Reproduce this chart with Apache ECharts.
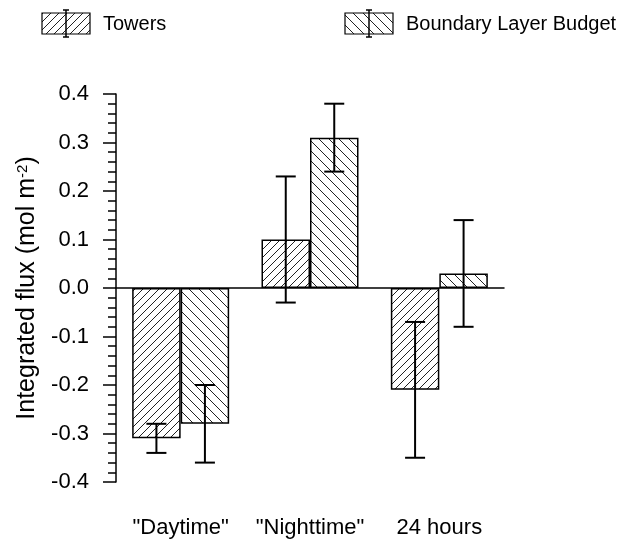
<!DOCTYPE html>
<html>
<head>
<meta charset="utf-8">
<script src="https://cdn.jsdelivr.net/npm/echarts@6/dist/echarts.min.js"></script>
<style>html,body{margin:0;padding:0;background:#fff}#c{width:630px;height:545px}</style>
</head>
<body>
<div id="c"></div>
<script>
// ---- data ----
const categories = ['"Daytime"', '"Nighttime"', '24 hours'];
const seriesNames = ['Towers', 'Boundary Layer Budget'];
const towers = [-0.31, 0.10, -0.21];
const towersErr = [0.03, 0.13, 0.14];
const blb = [-0.28, 0.31, 0.03];
const blbErr = [0.08, 0.07, 0.11];
const yTicks = { min: -0.4, max: 0.4, interval: 0.1 };

// ---- styles ----
const FONT = "'Liberation Sans', Arial, sans-serif";
const BAR_W = 48.5;
const CAP = 10;

function hatch(s, forward) {
  const c = document.createElement('canvas');
  c.width = s; c.height = s;
  const g = c.getContext('2d');
  g.fillStyle = '#fff'; g.fillRect(0, 0, s, s);
  g.strokeStyle = '#222'; g.lineWidth = 1;
  g.beginPath();
  if (forward) {
    g.moveTo(0, s); g.lineTo(s, 0);
    g.moveTo(-1, 1); g.lineTo(1, -1);
    g.moveTo(s - 1, s + 1); g.lineTo(s + 1, s - 1);
  } else {
    g.moveTo(0, 0); g.lineTo(s, s);
    g.moveTo(-1, s - 1); g.lineTo(1, s + 1);
    g.moveTo(s - 1, -1); g.lineTo(s + 1, 1);
  }
  g.stroke();
  return c;
}
const patTowers = { image: hatch(8, true), repeat: 'repeat' };
const patBlb = { image: hatch(10, false), repeat: 'repeat' };

function errRender(sign) {
  return function (params, api) {
    const cx = api.coord([api.value(0), 0])[0] + sign * BAR_W / 2;
    const lo = api.coord([api.value(0), api.value(1)])[1];
    const hi = api.coord([api.value(0), api.value(2)])[1];
    const st = { stroke: '#000', lineWidth: 2 };
    return {
      type: 'group',
      children: [
        { type: 'line', shape: { x1: cx, y1: lo, x2: cx, y2: hi }, style: st },
        { type: 'line', shape: { x1: cx - CAP, y1: lo, x2: cx + CAP, y2: lo }, style: st },
        { type: 'line', shape: { x1: cx - CAP, y1: hi, x2: cx + CAP, y2: hi }, style: st }
      ]
    };
  };
}

function legendItem(x, pat, label) {
  const bw = 48, bh = 21, y = 13;
  const cx = x + bw / 2;
  const st = { stroke: '#000', lineWidth: 1.5 };
  return [
    { type: 'rect', shape: { x: x, y: y, width: bw, height: bh }, style: { fill: pat, stroke: '#000', lineWidth: 1.2 } },
    { type: 'line', shape: { x1: cx, y1: y - 3, x2: cx, y2: y + bh + 3 }, style: st },
    { type: 'line', shape: { x1: cx - 3, y1: y - 3, x2: cx + 3, y2: y - 3 }, style: st },
    { type: 'line', shape: { x1: cx - 3, y1: y + bh + 3, x2: cx + 3, y2: y + bh + 3 }, style: st },
    { type: 'text', x: x + bw + 13, y: y + bh / 2 + 1, style: { text: label, fill: '#000', font: '20px ' + FONT, verticalAlign: 'middle', align: 'left' } }
  ];
}

const chart = echarts.init(document.getElementById('c'), null, { renderer: 'canvas' });
chart.setOption({
  animation: false,
  backgroundColor: '#fff',
  textStyle: { fontFamily: FONT },
  grid: { left: 116, top: 94, width: 388, height: 388, containLabel: false },
  graphic: [].concat(legendItem(42, patTowers, seriesNames[0]), legendItem(345, patBlb, seriesNames[1])),
  xAxis: [
    {
      type: 'category', data: categories, gridIndex: 0,
      axisLine: { show: true, onZero: true, lineStyle: { color: '#000', width: 1.5 } },
      axisTick: { show: false }, axisLabel: { show: false }, splitLine: { show: false }
    },
    {
      type: 'category', data: categories, gridIndex: 0, position: 'bottom',
      axisLine: { show: false, onZero: false },
      axisTick: { show: false }, splitLine: { show: false },
      axisLabel: { show: true, interval: 0, hideOverlap: false, color: '#000', fontSize: 22, fontFamily: FONT, margin: 35 }
    }
  ],
  yAxis: {
    type: 'value', min: yTicks.min, max: yTicks.max, interval: yTicks.interval,
    name: 'Integrated flux (mol m{sup|-2})',
    nameLocation: 'middle', nameGap: 76, nameRotate: 90,
    nameTextStyle: {
      color: '#000', fontSize: 25, fontFamily: FONT,
      rich: { sup: { fontSize: 15, verticalAlign: 'top', color: '#000', fontFamily: FONT, padding: [0, 0, 10, 0] } }
    },
    axisLine: { show: true, lineStyle: { color: '#000', width: 1.5 } },
    axisTick: { show: true, inside: false, length: 13, lineStyle: { color: '#000', width: 1.5 } },
    minorTick: { show: true, splitNumber: 5, length: 8, lineStyle: { color: '#000', width: 1.5 } },
    splitLine: { show: false },
    axisLabel: {
      color: '#000', fontSize: 22, fontFamily: FONT, margin: 27,
      formatter: v => (Math.abs(v) < 1e-9 ? 0 : v).toFixed(1)
    }
  },
  series: [
    {
      name: seriesNames[0], type: 'bar', data: towers, barWidth: BAR_W, barGap: '0%',
      itemStyle: { color: patTowers, borderColor: '#000', borderWidth: 1.5 }, z: 2
    },
    {
      name: seriesNames[1], type: 'bar', data: blb, barWidth: BAR_W, barGap: '0%',
      itemStyle: { color: patBlb, borderColor: '#000', borderWidth: 1.5 }, z: 2
    },
    {
      type: 'custom', renderItem: errRender(-1), z: 5,
      encode: { x: 0, y: [1, 2] },
      data: towers.map((v, i) => [i, v - towersErr[i], v + towersErr[i]])
    },
    {
      type: 'custom', renderItem: errRender(1), z: 5,
      encode: { x: 0, y: [1, 2] },
      data: blb.map((v, i) => [i, v - blbErr[i], v + blbErr[i]])
    }
  ]
});
</script>
</body>
</html>
